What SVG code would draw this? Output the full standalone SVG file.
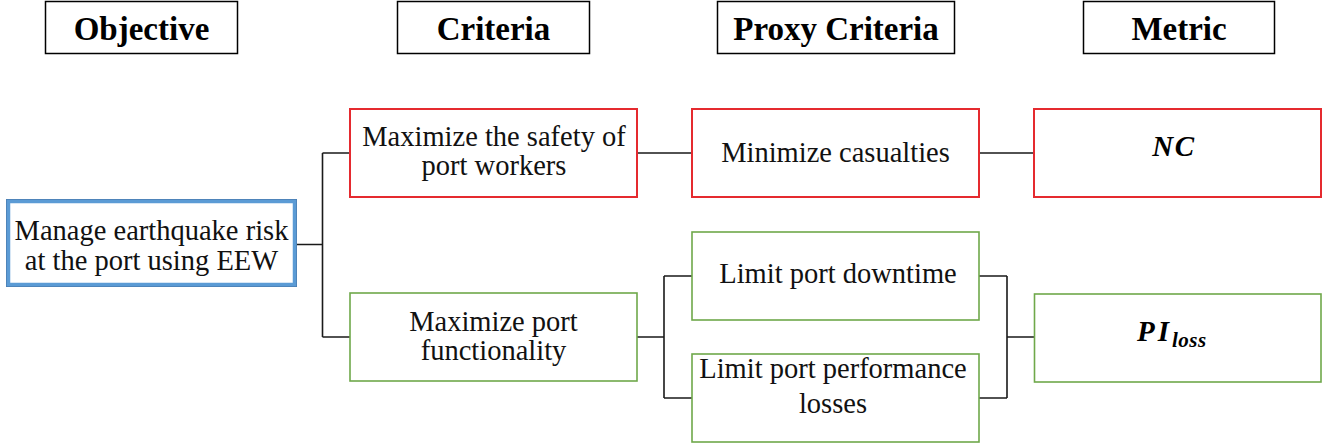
<svg xmlns="http://www.w3.org/2000/svg" width="1335" height="447" viewBox="0 0 1335 447">
<style>
.hdr{fill:#fff;stroke:#000;stroke-width:1.5}
.htxt{font-family:"Liberation Serif","Times New Roman",serif;font-weight:bold;font-size:33px;text-anchor:middle;fill:#000}
.txt{font-family:"Liberation Serif","Times New Roman",serif;font-size:28.5px;text-anchor:middle;fill:#111}
.math{font-family:"Liberation Serif","Times New Roman",serif;font-weight:bold;font-style:italic;font-size:29px;fill:#000}
.red{fill:#fff;stroke:#E52A2F;stroke-width:2}
.green{fill:#fff;stroke:#6FA84A;stroke-width:1.6}
.conn{fill:none;stroke:#1a1a1a;stroke-width:1.6}
</style>
<rect width="1335" height="447" fill="#fff"/>
<g id="headers">
<g id="hdr-objective"><rect class="hdr" x="45.5" y="1.5" width="192" height="52"/><text class="htxt" x="141.5" y="40">Objective</text></g>
<g id="hdr-criteria"><rect class="hdr" x="397.5" y="1.5" width="192" height="52"/><text class="htxt" x="493.5" y="40">Criteria</text></g>
<g id="hdr-proxy"><rect class="hdr" x="717.5" y="1.5" width="237" height="52"/><text class="htxt" x="836" y="40">Proxy Criteria</text></g>
<g id="hdr-metric"><rect class="hdr" x="1083.5" y="1.5" width="191" height="52"/><text class="htxt" x="1179" y="40">Metric</text></g>
</g>
<g id="connectors">
<path class="conn" d="M297 244.5H322.5M322.5 153V337M322.5 153H350M322.5 337H350"/>
<path class="conn" d="M637 153H692M979 153H1034"/>
<path class="conn" d="M637 337H664M664 276V398M664 276H692M664 398H692"/>
<path class="conn" d="M979 276H1007M1007 276V398M979 398H1007M1007 337H1034"/>
</g>
<g id="node-objective">
<rect x="6.5" y="199.5" width="290" height="87" fill="#fff" stroke="#4A7DB0" stroke-width="1"/>
<rect x="8.5" y="201.5" width="286" height="83" fill="#fff" stroke="#5B9BD5" stroke-width="3.5"/>
<text class="txt" x="151.5" y="240">Manage earthquake risk</text>
<text class="txt" x="151.5" y="270">at the port using EEW</text>
</g>
<g id="node-safety">
<rect class="red" x="350" y="109" width="287" height="88"/>
<text class="txt" x="494" y="146">Maximize the safety of</text>
<text class="txt" x="494" y="175">port workers</text>
</g>
<g id="node-functionality">
<rect class="green" x="350" y="293" width="287" height="88"/>
<text class="txt" x="493.5" y="331">Maximize port</text>
<text class="txt" x="493.5" y="360">functionality</text>
</g>
<g id="node-casualties">
<rect class="red" x="692" y="109" width="287" height="88"/>
<text class="txt" x="835.5" y="162">Minimize casualties</text>
</g>
<g id="node-downtime">
<rect class="green" x="692" y="232" width="287" height="88"/>
<text class="txt" x="838" y="283">Limit port downtime</text>
</g>
<g id="node-performance">
<rect class="green" x="692" y="354" width="287" height="88"/>
<text class="txt" x="833" y="378">Limit port performance</text>
<text class="txt" x="833" y="413">losses</text>
</g>
<g id="node-nc">
<rect class="red" x="1034" y="109" width="287" height="88"/>
<text class="math" x="1174" y="156" text-anchor="middle" letter-spacing="1.5">NC</text>
</g>
<g id="node-piloss">
<rect class="green" x="1034.5" y="294" width="286.5" height="88"/>
<text class="math" x="1137" y="341" letter-spacing="3">PI<tspan font-size="21" dy="6" letter-spacing="0.5">loss</tspan></text>
</g>
</svg>
